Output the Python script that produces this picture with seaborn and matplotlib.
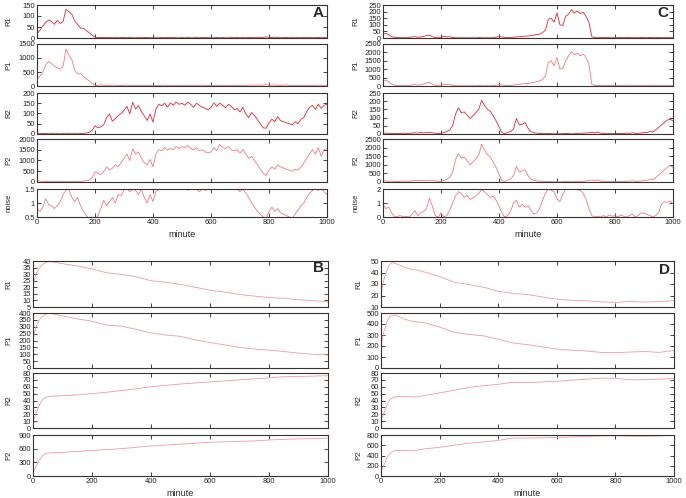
import numpy as np
import matplotlib
matplotlib.use("Agg")
import matplotlib.pyplot as plt
import seaborn as sns

# noisy runs (A, C) sampled every 10 minutes
minutes = np.arange(0, 1001, 10)

a_r1 = [20, 35, 55, 70, 82, 75, 62, 80, 66, 75,
        130, 120, 108, 78, 62, 45, 44, 34, 24, 12,
        4, 2, 3, 1, 2, 3, 1, 2, 1, 2,
        3, 1, 2, 1, 1, 2, 1, 2, 3, 1,
        2, 1, 1, 2, 1, 3, 1, 2, 1, 1,
        2, 1, 2, 1, 1, 2, 1, 3, 1, 2,
        1, 1, 2, 1, 2, 1, 1, 2, 1, 3,
        1, 2, 1, 2, 3, 1, 4, 2, 3, 5,
        3, 2, 4, 2, 1, 2, 3, 1, 2, 1,
        2, 1, 3, 1, 2, 1, 2, 3, 1, 2,
        1]
a_p1 = [250, 350, 500, 750, 880, 800, 700, 650, 600, 700,
        1320, 1100, 950, 560, 430, 440, 350, 250, 190, 90,
        30, 20, 40, 25, 30, 20, 35, 20, 25, 15,
        20, 30, 15, 20, 25, 15, 20, 30, 15, 20,
        25, 15, 20, 15, 30, 20, 15, 25, 20, 15,
        20, 25, 15, 20, 15, 25, 20, 30, 15, 20,
        15, 20, 25, 15, 20, 15, 20, 25, 15, 30,
        20, 25, 15, 30, 35, 25, 40, 30, 35, 45,
        35, 30, 40, 25, 20, 30, 35, 20, 25, 15,
        20, 15, 30, 20, 25, 15, 20, 30, 15, 25,
        20]
a_r2 = [5, 3, 2, 2, 1, 2, 1, 2, 1, 2,
        1, 2, 1, 2, 1, 2, 3, 5, 8, 18,
        40, 30, 35, 45, 80, 98, 62, 75, 90, 100,
        115, 135, 98, 155, 122, 138, 110, 88, 66, 98,
        58, 122, 145, 138, 150, 132, 152, 140, 156, 145,
        150, 140, 156, 145, 130, 150, 140, 130, 125, 118,
        130, 152, 135, 150, 140, 128, 145, 135, 118, 125,
        108, 130, 98, 80, 105, 90, 70, 50, 30, 28,
        55, 72, 60, 85, 65, 60, 55, 50, 45, 60,
        50, 72, 80, 110, 130, 140, 120, 145, 125, 140,
        145]
a_p2 = [80, 40, 30, 20, 30, 20, 25, 20, 30, 20,
        25, 20, 30, 20, 25, 30, 40, 60, 90, 200,
        470, 400, 350, 480, 700, 560, 640, 800, 720, 900,
        1100, 1300, 1000, 1550, 1300, 1400, 1100, 900, 800, 1050,
        700, 1300, 1500, 1450, 1600, 1480, 1560, 1500, 1650, 1550,
        1650, 1600, 1700, 1560, 1500, 1600, 1450, 1500, 1400, 1350,
        1400, 1600, 1450, 1750, 1600, 1550, 1650, 1500, 1450, 1500,
        1350, 1500, 1300, 1100, 1200, 1000, 800, 600, 400, 300,
        550, 700, 600, 800, 700, 650, 600, 550, 500, 600,
        550, 700, 900, 1100, 1300, 1500, 1300, 1600, 1200, 1500,
        1550]
a_noise = [0.8, 0.7, 0.85, 1.15, 0.95, 0.9, 0.8, 0.9, 1.05, 1.3,
           1.45, 1.5, 1.2, 1.05, 1.2, 0.9, 0.7, 0.55, 0.45, 0.5,
           0.4, 0.55, 0.8, 1.1, 0.9, 1.05, 1.2, 1.0, 1.3, 1.25,
           1.45, 1.55, 1.4, 1.5, 1.45, 1.3, 1.5, 1.2, 1.0, 1.3,
           1.05, 1.4, 1.5, 1.55, 1.5, 1.55, 1.5, 1.55, 1.5, 1.5,
           1.55, 1.5, 1.45, 1.55, 1.5, 1.5, 1.4, 1.5, 1.45, 1.5,
           1.45, 1.5, 1.55, 1.5, 1.55, 1.5, 1.55, 1.5, 1.55, 1.5,
           1.4, 1.5, 1.35, 1.2, 1.0, 0.85, 0.7, 0.6, 0.5, 0.45,
           0.7, 0.85, 0.7, 0.8, 0.65, 0.6, 0.55, 0.5, 0.45, 0.6,
           0.75, 0.9, 1.0, 1.2, 1.35, 1.45, 1.5, 1.45, 1.55, 1.4,
           1.3]

c_r1 = [35, 35, 25, 10, 5, 3, 2, 3, 2, 4,
        8, 10, 6, 8, 12, 18, 22, 10, 4, 6,
        5, 12, 8, 10, 4, 2, 1, 2, 1, 2,
        1, 2, 1, 3, 2, 1, 2, 1, 2, 6,
        10, 8, 4, 2, 4, 6, 8, 10, 12, 14,
        15, 18, 22, 26, 30, 40, 60, 140, 150, 120,
        190, 100, 95, 165, 180, 215, 190, 205, 185, 195,
        165, 120, 10, 3, 2, 3, 2, 4, 3, 2,
        3, 2, 4, 2, 3, 5, 2, 3, 2, 4,
        3, 2, 5, 3, 2, 4, 2, 3, 2, 3,
        2]
c_p1 = [350, 340, 250, 100, 50, 30, 20, 30, 20, 40,
        60, 80, 50, 70, 110, 180, 230, 100, 40, 60,
        50, 110, 80, 100, 40, 20, 10, 20, 10, 20,
        10, 20, 10, 30, 20, 10, 20, 10, 20, 50,
        90, 70, 40, 20, 40, 60, 80, 100, 120, 140,
        150, 180, 220, 260, 300, 380, 600, 1400, 1500, 1200,
        1700, 1000, 1050, 1500, 1800, 2050, 1850, 1950, 1800, 1900,
        1700, 1300, 100, 30, 20, 30, 20, 40, 30, 20,
        30, 20, 40, 20, 30, 50, 20, 30, 20, 40,
        30, 20, 50, 30, 20, 40, 20, 30, 20, 30,
        20]
c_r2 = [3, 5, 2, 4, 3, 2, 3, 5, 3, 4,
        5, 8, 6, 9, 7, 8, 10, 7, 5, 3,
        4, 8, 15, 25, 50, 120, 160, 130, 135, 115,
        95, 110, 130, 150, 205, 175, 150, 140, 110, 80,
        45, 8, 3, 10, 15, 30, 95, 55, 60, 70,
        35, 15, 8, 5, 3, 4, 2, 3, 2, 1,
        2, 1, 2, 3, 2, 1, 2, 3, 5, 4,
        6, 8, 10, 6, 12, 5, 3, 2, 3, 2,
        3, 4, 2, 3, 5, 4, 8, 3, 4, 6,
        10, 8, 15, 12, 25, 40, 55, 70, 85, 90,
        80]
c_p2 = [80, 60, 40, 50, 40, 30, 40, 60, 40, 50,
        60, 90, 70, 100, 80, 90, 110, 80, 60, 40,
        50, 90, 160, 280, 550, 1300, 1650, 1400, 1450, 1250,
        1000, 1150, 1350, 1550, 2200, 1850, 1600, 1450, 1150, 850,
        450, 80, 40, 110, 180, 350, 900, 580, 650, 700,
        380, 160, 90, 60, 40, 50, 30, 40, 20, 10,
        20, 10, 20, 30, 20, 10, 20, 30, 50, 40,
        60, 80, 110, 60, 130, 50, 30, 20, 30, 20,
        30, 40, 20, 30, 50, 40, 80, 30, 40, 60,
        100, 80, 150, 120, 250, 400, 550, 700, 850, 950,
        850]
c_noise = [0.9, 0.6, 0.7, 0.3, 0.0, 0.05, 0.1, 0.0, 0.05, 0.0,
           0.2, 0.45, 0.1, 0.3, 0.4, 0.6, 1.35, 0.8, 0.1, 0.0,
           0.3, 0.0, 0.1, 0.5, 1.0, 1.5, 1.8, 1.7, 1.4, 1.55,
           1.25, 1.35, 1.5, 1.7, 1.95, 1.8, 1.6, 1.4, 1.5, 1.2,
           0.8, 0.3, 0.0, 0.1, 0.4, 1.0, 1.2, 0.7, 0.9, 0.7,
           0.8, 0.5, 0.2, 0.3, 0.6, 1.2, 1.7, 2.0, 1.9, 1.8,
           1.3, 1.1, 1.6, 2.0, 2.0, 2.0, 2.0, 1.95, 1.9, 1.7,
           1.3, 0.6, 0.1, 0.0, 0.05, 0.0, 0.1, 0.0, 0.15, 0.05,
           0.1, 0.0, 0.15, 0.05, 0.0, 0.1, 0.2, 0.0, 0.1, 0.3,
           0.25, 0.2, 0.1, 0.0, 0.1, 0.3, 0.9, 1.1, 1.05, 1.15,
           0.95]

# smooth runs (B, D)
t_smooth = [0, 5, 10, 20, 30, 40, 50, 60, 80, 100, 120, 150, 200, 250, 300,
            350, 400, 450, 500, 550, 600, 650, 700, 750, 800, 850, 900, 950, 1000]

b_r1 = [20, 26, 30, 34, 37, 38.5, 39.3, 39.5, 38.8, 38, 37.2, 36.3, 34, 31, 29.8,
        28, 25, 23.8, 22.2, 20, 17.8, 16.3, 14.5, 13.3, 12.2, 11.6, 10.5, 9.8, 9]
b_p1 = [200, 250, 300, 345, 372, 388, 396, 398, 388, 378, 370, 358, 340, 312, 305,
        280, 255, 240, 230, 205, 185, 168, 150, 138, 130, 120, 108, 100, 95]
b_r2 = [10, 15, 20, 32, 40, 44, 45.5, 46, 46.5, 47, 47.5, 48, 50, 52, 54.5,
        57, 60, 62, 64, 65.5, 67, 68.5, 70, 71.5, 73, 74.5, 75, 75.5, 76]
b_p2 = [100, 150, 210, 330, 430, 485, 505, 510, 515, 520, 528, 540, 560, 580, 600,
        630, 660, 680, 700, 720, 740, 750, 760, 770, 790, 805, 815, 820, 830]

d_r1 = [21, 28, 34, 42, 47, 48.5, 47.8, 46.8, 44.5, 43, 42.3, 40.3, 36.5, 31.5, 29.5,
        27.2, 23.7, 21.8, 20.8, 18.8, 16.8, 15.8, 15.5, 14.5, 14, 14.8, 14.3, 14.8, 15.5]
d_p1 = [200, 270, 330, 420, 468, 480, 478, 470, 445, 428, 420, 410, 372, 325, 305,
        292, 262, 228, 212, 192, 172, 162, 155, 142, 140, 145, 150, 142, 160]
d_r2 = [12, 16, 22, 33, 41, 44, 45.5, 45.5, 45.8, 45.5, 45, 47.5, 51, 55, 59,
        61.5, 63.5, 66.5, 66, 67, 68, 69.5, 71, 72.5, 72.5, 70, 70.5, 71, 72]
d_p2 = [80, 150, 220, 350, 440, 480, 495, 498, 500, 500, 502, 530, 560, 600, 640,
        665, 695, 740, 740, 745, 755, 760, 770, 780, 785, 775, 775, 780, 790]

labels_5 = ["R1", "P1", "R2", "P2", "noise"]
labels_4 = ["R1", "P1", "R2", "P2"]

sns.set_style("ticks")
plt.rcParams["font.family"] = ["Liberation Sans", "DejaVu Sans"]

W, H = 686, 498
fig = plt.figure(figsize=(W / 100, H / 100), dpi=100)

rows_ac = [(5, 38), (44, 86), (93, 134), (139, 182), (189, 217)]
rows_bd = [(261, 307), (313, 368), (373, 428), (435, 476)]


def draw_panel(x0, x1, rows, series, labels, ylims, yticks, colors, letter, letter_xy, ylab_x):
    n = len(rows)
    for i, ((top, bot), (xs, ys), lab) in enumerate(zip(rows, series, labels)):
        ax = fig.add_axes([x0 / W, 1 - bot / H, (x1 - x0) / W, (bot - top) / H])
        sns.lineplot(x=xs, y=ys, ax=ax, color=colors[i], linewidth=0.6, errorbar=None)
        ax.set_xlim(0, 1000)
        ax.set_ylim(*ylims[i])
        ax.set_xticks(range(0, 1001, 200))
        ax.set_yticks(yticks[i])
        ax.set_yticklabels([f"{v:g}" for v in yticks[i]])
        ax.tick_params(direction="in", top=True, right=True, length=3, width=0.6,
                       labelsize=5.5, pad=1.5, colors="#222222")
        for sp in ax.spines.values():
            sp.set_color("#333333")
            sp.set_linewidth(0.8)
        ax.set_ylabel(lab, fontsize=5.5)
        ax.yaxis.set_label_coords(ylab_x, 0.5)
        if i < n - 1:
            ax.set_xticklabels([])
            ax.set_xlabel("")
        else:
            ax.set_xlabel("minute", fontsize=6.5, labelpad=3)
        if i == 0:
            ax.text(letter_xy[0], letter_xy[1], letter, transform=ax.transAxes,
                    fontsize=11, fontweight="bold", ha="right", va="center")


red_dark = "#e3262d"
red_light = "#f07a7a"
pink = "#f29a9a"

draw_panel(37, 327, rows_ac,
           [(minutes, a_r1), (minutes, a_p1), (minutes, a_r2), (minutes, a_p2), (minutes, a_noise)],
           labels_5,
           [(0, 150), (0, 1500), (0, 200), (0, 2000), (0.5, 1.5)],
           [[0, 50, 100, 150], [0, 500, 1000, 1500], [0, 50, 100, 150, 200],
            [0, 500, 1000, 1500, 2000], [0.5, 1, 1.5]],
           [red_dark, red_light, red_dark, red_light, red_light],
           "A", (0.99, 0.76), -0.085)

draw_panel(383, 673, rows_ac,
           [(minutes, c_r1), (minutes, c_p1), (minutes, c_r2), (minutes, c_p2), (minutes, c_noise)],
           labels_5,
           [(0, 250), (0, 2500), (0, 250), (0, 2500), (0, 2)],
           [list(range(0, 251, 50)), list(range(0, 2501, 500)), list(range(0, 251, 50)),
            list(range(0, 2501, 500)), [0, 1, 2]],
           [red_dark, red_light, red_dark, red_light, red_light],
           "C", (0.985, 0.76), -0.08)

draw_panel(33, 328, rows_bd,
           [(t_smooth, b_r1), (t_smooth, b_p1), (t_smooth, b_r2), (t_smooth, b_p2)],
           labels_4,
           [(5, 40), (0, 400), (0, 80), (0, 900)],
           [list(range(5, 41, 5)), list(range(0, 401, 50)), list(range(0, 81, 10)),
            [0, 300, 600, 900]],
           [pink] * 4,
           "B", (0.985, 0.84), -0.07)

draw_panel(381, 674, rows_bd,
           [(t_smooth, d_r1), (t_smooth, d_p1), (t_smooth, d_r2), (t_smooth, d_p2)],
           labels_4,
           [(10, 50), (0, 500), (0, 80), (0, 800)],
           [list(range(10, 51, 10)), list(range(0, 501, 100)), list(range(0, 81, 10)),
            list(range(0, 801, 200))],
           [pink] * 4,
           "D", (0.985, 0.8), -0.065)

fig.savefig("out.png", dpi=100, facecolor="white")
